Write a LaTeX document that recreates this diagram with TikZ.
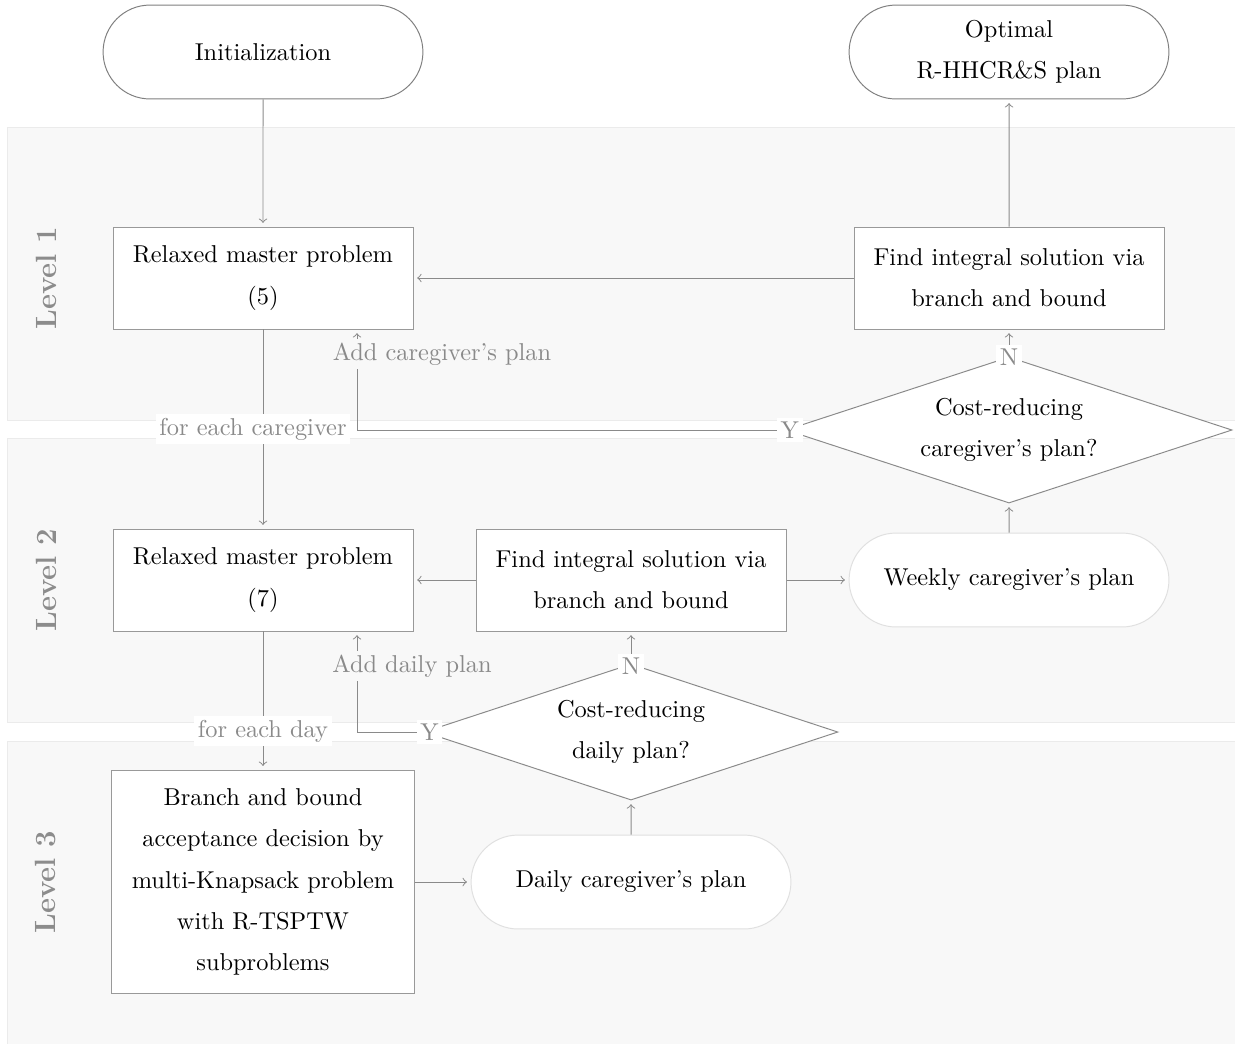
\documentclass[tikz,border=0pt]{standalone}
\usetikzlibrary{shapes.geometric,shapes.misc,calc}
\definecolor{panelfill}{HTML}{F8F8F8}
\definecolor{paneldraw}{HTML}{EBEBEB}
\definecolor{ln}{HTML}{8A8A8A}
\definecolor{bx}{HTML}{999999}
\definecolor{termd}{HTML}{7F7F7F}
\definecolor{lightbd}{HTML}{E0E0E0}
\definecolor{levelc}{HTML}{8C8C8C}
\begin{document}
\begin{tikzpicture}[x=0.41pt,y=-0.41pt,
  every node/.style={font=\fontsize{10}{16.9}\selectfont},
  panel/.style={fill=panelfill,draw=paneldraw,line width=0.4pt},
  box/.style={draw=bx,fill=white,align=center,inner sep=2pt,line width=0.4pt},
  rmp/.style={box,minimum width=123pt,minimum height=41.8pt},
  fis/.style={box,minimum width=127.1pt,minimum height=41.8pt},
  term/.style={rounded rectangle,draw=termd,fill=white,align=center,line width=0.4pt,minimum width=137.8pt,minimum height=38.5pt},
  plan/.style={term,draw=lightbd},
  dec/.style={diamond,draw=ln,fill=white,aspect=3,inner sep=0pt,align=center,line width=0.4pt},
  arr/.style={->,draw=ln,line width=0.4pt,shorten >=1.5pt},
  lbl/.style={text=ln,inner sep=1.5pt},
  lvl/.style={rotate=90,text=levelc,font=\fontsize{12}{14}\selectfont\bfseries}
]
\useasboundingbox (0,0) rectangle (1235,1043);
\begin{scope}
\clip (0,0) rectangle (1235,1043);
\draw[panel] (7,127) rectangle (1245,420);
\draw[panel] (7,438) rectangle (1245,722);
\draw[panel] (7,741) rectangle (1245,1053);
\end{scope}

\node[lvl] (lv1) at (46,278) {Level 1};
\node[lvl] (lv2) at (46,580) {Level 2};
\node[lvl] (lv3) at (46,882) {Level 3};

\node[term] (init) at (263,52) {Initialization};
\node[term] (opt) at (1009,52) {Optimal\\R-HHCR\&S plan};
\node[rmp] (rmp5) at (263,278) {Relaxed master problem\\(5)};
\node[fis] (fis1) at (1009,278) {Find integral solution via\\branch and bound};
\node[dec,minimum width=182.9pt,minimum height=59.9pt] (d1) at (1009,430) {Cost-reducing\\caregiver's plan?};
\node[plan] (week) at (1009,580) {Weekly caregiver's plan};
\node[rmp] (rmp7) at (263,580) {Relaxed master problem\\(7)};
\node[fis] (fis2) at (631,580) {Find integral solution via\\branch and bound};
\node[dec,minimum width=169.7pt,minimum height=55.8pt] (d2) at (631,732) {Cost-reducing\\daily plan?};
\node[box,minimum width=124.2pt,minimum height=91.8pt] (bb) at (263,882) {Branch and bound\\acceptance decision by\\multi-Knapsack problem\\with R-TSPTW\\subproblems};
\node[plan] (daily) at (631,882) {Daily caregiver's plan};

\coordinate (xa) at (357,0);
\draw[arr] (init) -- (rmp5);
\draw[arr] (fis1) -- (rmp5);
\draw[arr] (fis1) -- (opt);
\draw[arr] (d1.north) -- (fis1);
\draw[arr] (d1.west) -| (rmp5.south -| xa);
\draw[arr] (rmp5) -- (rmp7);
\draw[arr] (week) -- (d1.south);
\draw[arr] (fis2) -- (rmp7);
\draw[arr] (fis2) -- (week);
\draw[arr] (d2.north) -- (fis2);
\draw[arr] (d2.west) -| (rmp7.south -| xa);
\draw[arr] (rmp7) -- (bb);
\draw[arr] (bb) -- (daily);
\draw[arr] (daily) -- (d2.south);

\node[lbl,fill=white] (n1) at ([yshift=-0.4pt]d1.north) {N};
\node[lbl,fill=white] (y1) at ([xshift=1.8pt]d1.west) {Y};
\node[lbl,fill=white] (n2) at ([yshift=-1pt]d2.north) {N};
\node[lbl,fill=white] (y2) at ([xshift=2.4pt]d2.west) {Y};
\node[lbl,fill=white] (fec) at (253,429) {for each caregiver};
\node[lbl,fill=white] (fed) at (263,731) {for each day};
\node[lbl,fill=panelfill] (acp) at (442,354) {Add caregiver's plan};
\node[lbl,fill=panelfill] (adp) at (412,666) {Add daily plan};
\end{tikzpicture}
\end{document}
